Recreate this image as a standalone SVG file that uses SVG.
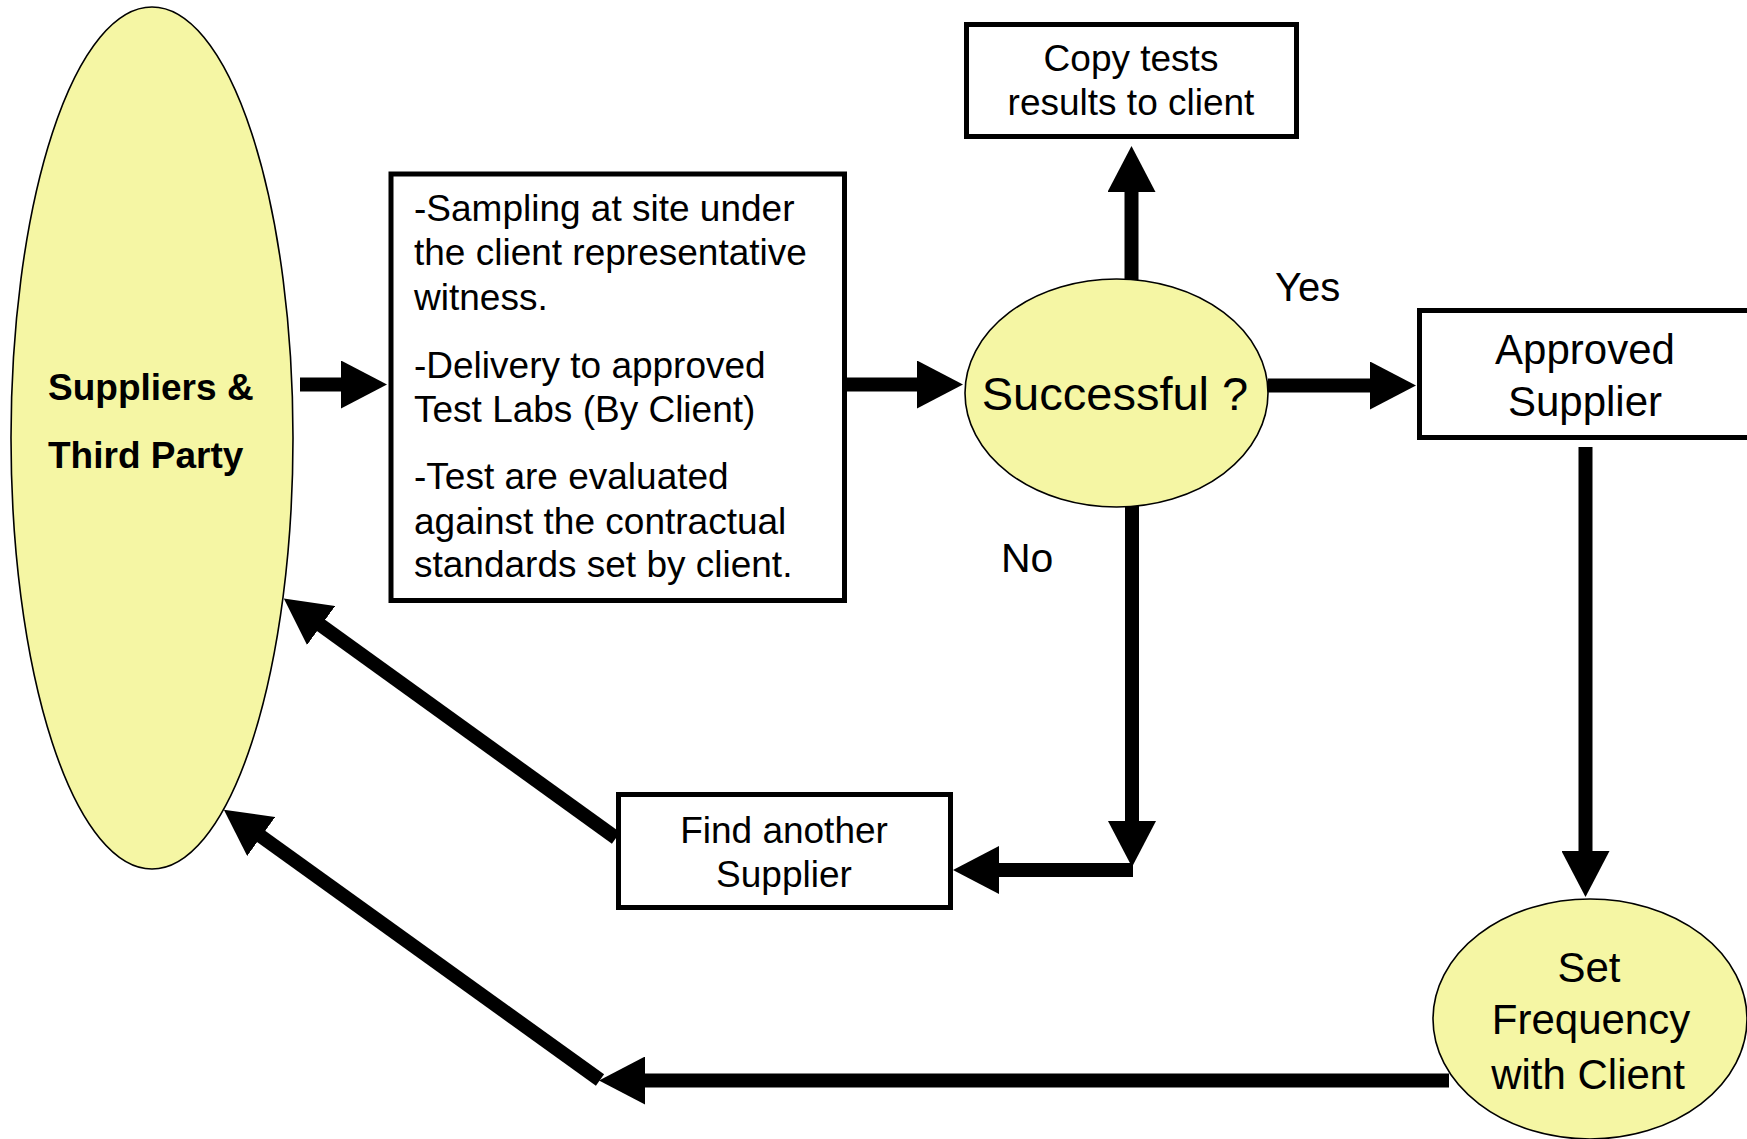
<svg xmlns="http://www.w3.org/2000/svg" width="1747" height="1139" viewBox="0 0 1747 1139">
  <style>
    .oval { fill: #f5f6a4; stroke: #000; stroke-width: 1.6; }
    .box { fill: #fff; stroke: #000; stroke-width: 5; }
    .t { font-family: "Liberation Sans", Arial, sans-serif; fill: #000; }
    .c { text-anchor: middle; }
    .b { font-weight: bold; }
    .wire { fill: none; stroke: #000; stroke-width: 14; stroke-linecap: butt; }
  </style>
  <defs>
    <marker id="head" markerUnits="userSpaceOnUse" viewBox="0 0 46 48" markerWidth="46" markerHeight="48" refX="1" refY="24" orient="auto">
      <path d="M0,0 L46,24 L0,48 Z" fill="#000"/>
    </marker>
  </defs>
  <rect width="1747" height="1139" fill="#fff"/>

  <!-- connectors -->
  <g id="connectors">
    <line class="wire" x1="300" y1="384.5" x2="342" y2="384.5" marker-end="url(#head)"/>
    <line class="wire" x1="845" y1="384.5" x2="918" y2="384.5" marker-end="url(#head)"/>
    <line class="wire" x1="1268" y1="385.5" x2="1371" y2="385.5" marker-end="url(#head)"/>
    <line class="wire" x1="1131.5" y1="280" x2="1131.5" y2="191" marker-end="url(#head)"/>
    <line class="wire" x1="1132" y1="506" x2="1132" y2="822" marker-end="url(#head)"/>
    <line class="wire" x1="1133" y1="870" x2="998" y2="870" marker-end="url(#head)"/>
    <line class="wire" x1="1585.5" y1="447" x2="1585.5" y2="852" marker-end="url(#head)"/>
    <line class="wire" x1="1449" y1="1080.5" x2="644" y2="1080.5" marker-end="url(#head)"/>
    <line class="wire" x1="600" y1="1080" x2="260.4" y2="835.9" marker-end="url(#head)"/>
    <line class="wire" x1="616" y1="838" x2="320.3" y2="624.9" marker-end="url(#head)"/>
  </g>

  <g id="suppliers">
    <ellipse class="oval" cx="152" cy="438" rx="141" ry="431"/>
    <text class="t b" x="48" y="400" font-size="37">Suppliers &amp;</text>
    <text class="t b" x="48" y="468" font-size="37">Third Party</text>
  </g>

  <g id="sampling">
    <rect class="box" x="391" y="174" width="453.5" height="426.5"/>
    <g class="t" font-size="37">
      <text x="414" y="221">-Sampling at site under</text>
      <text x="414" y="265">the client representative</text>
      <text x="414" y="310">witness.</text>
      <text x="414" y="378">-Delivery to approved</text>
      <text x="414" y="422">Test Labs (By Client)</text>
      <text x="414" y="489">-Test are evaluated</text>
      <text x="414" y="534">against the contractual</text>
      <text x="414" y="577">standards set by client.</text>
    </g>
  </g>

  <g id="copy-results">
    <rect class="box" x="966.5" y="24.5" width="330" height="112"/>
    <text class="t c" x="1131" y="71" font-size="37">Copy tests</text>
    <text class="t c" x="1131" y="115" font-size="37">results to client</text>
  </g>

  <g id="successful">
    <ellipse class="oval" cx="1116.5" cy="393" rx="151.5" ry="114"/>
    <text class="t c" x="1115" y="410" font-size="47">Successful ?</text>
  </g>

  <g id="labels">
    <text class="t" x="1275" y="301" font-size="40">Yes</text>
    <text class="t" x="1001" y="572" font-size="41">No</text>
  </g>

  <g id="approved">
    <rect class="box" x="1419.5" y="310.5" width="360" height="127"/>
    <text class="t c" x="1585" y="364" font-size="42">Approved</text>
    <text class="t c" x="1585" y="416" font-size="42">Supplier</text>
  </g>

  <g id="find-another">
    <rect class="box" x="618.5" y="794.5" width="332" height="113"/>
    <text class="t c" x="784" y="843" font-size="37">Find another</text>
    <text class="t c" x="784" y="887" font-size="37">Supplier</text>
  </g>

  <g id="set-frequency">
    <ellipse class="oval" cx="1590" cy="1019" rx="157" ry="120"/>
    <text class="t c" x="1589" y="982" font-size="42">Set</text>
    <text class="t c" x="1591" y="1034" font-size="42">Frequency</text>
    <text class="t c" x="1588" y="1089" font-size="42">with Client</text>
  </g>
</svg>
